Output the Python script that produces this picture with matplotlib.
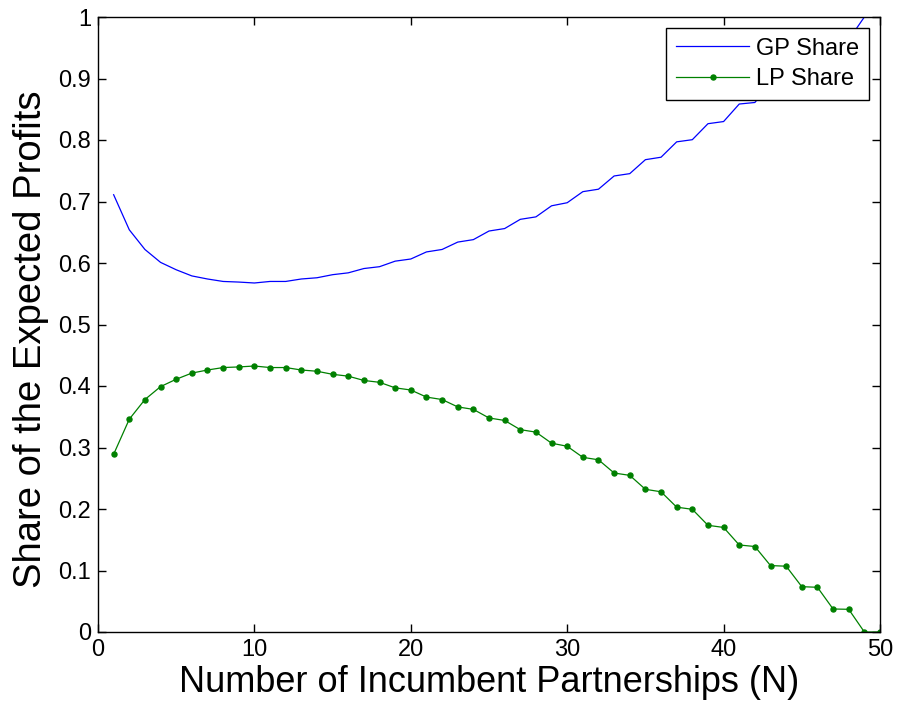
import numpy as np
import matplotlib
matplotlib.use("Agg")
import matplotlib.pyplot as plt

N = list(range(1, 51))
lp_share = [0.289, 0.346, 0.378, 0.399, 0.411, 0.421, 0.426, 0.430, 0.431, 0.4325,
            0.430, 0.430, 0.426, 0.424, 0.419, 0.416, 0.409, 0.406, 0.397, 0.3935,
            0.382, 0.378, 0.366, 0.362, 0.348, 0.344, 0.329, 0.325, 0.307, 0.302,
            0.284, 0.280, 0.2585, 0.2547, 0.232, 0.228, 0.203, 0.1995, 0.1735, 0.170,
            0.1415, 0.139, 0.108, 0.107, 0.0737, 0.0727, 0.0374, 0.0369, 0.0, 0.0]
gp_share = [1.0 - v for v in lp_share]

xticks = [0, 10, 20, 30, 40, 50]
yticks = [0, 0.1, 0.2, 0.3, 0.4, 0.5, 0.6, 0.7, 0.8, 0.9, 1]
ytick_labels = ["0", "0.1", "0.2", "0.3", "0.4", "0.5", "0.6", "0.7", "0.8", "0.9", "1"]

plt.rcParams['font.family'] = ['Liberation Sans', 'DejaVu Sans']

fig = plt.figure(figsize=(8.97, 7.10), dpi=100)
ax = fig.add_axes([98/897, 78/710, 782/897, 615/710])

ax.plot(N, gp_share, color=(0, 0, 1), lw=0.9, label='GP Share')
ax.plot(N, lp_share, color=(0, 0.5, 0), lw=0.9, marker='o', markersize=3.6,
        label='LP Share')

ax.set_xlim(0, 50)
ax.set_ylim(0, 1)
ax.set_xticks(xticks)
ax.set_xticklabels([str(t) for t in xticks])
ax.set_yticks(yticks)
ax.set_yticklabels(ytick_labels)
ax.tick_params(direction='in', length=6, width=1, labelsize=17,
               top=True, right=True, pad=5)
for s in ax.spines.values():
    s.set_linewidth(1.0)

ax.set_xlabel('Number of Incumbent Partnerships (N)', fontsize=26, labelpad=3)
ax.set_ylabel('Share of the Expected Profits', fontsize=27.5)
ax.yaxis.set_label_coords(-49/782, 0.5 - 15/615)

leg = ax.legend(loc='upper right', fontsize=17, frameon=True, fancybox=False,
                edgecolor='black', framealpha=1, handlelength=3.1,
                borderaxespad=0.45, borderpad=0.42, labelspacing=0.35,
                handletextpad=0.3)
leg.get_frame().set_linewidth(1.0)
for h in leg.legend_handles:
    if h.get_marker() == 'o':
        h.set_markersize(3.6)

fig.savefig('out.png', dpi=100)
